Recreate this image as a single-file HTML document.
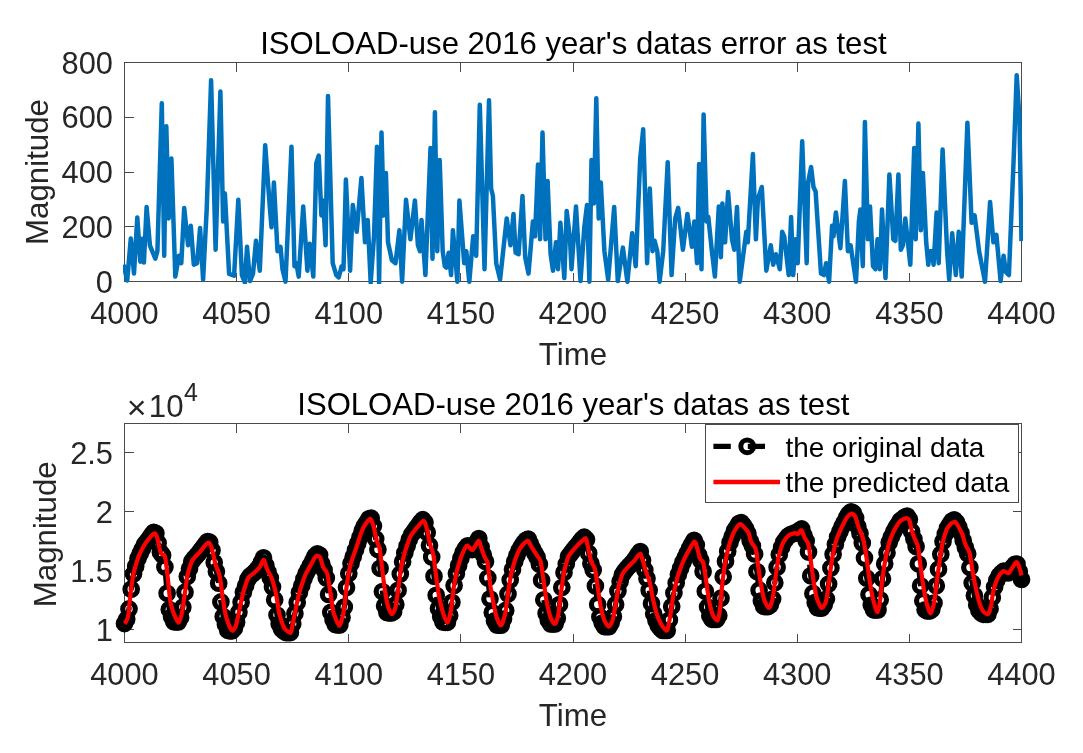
<!DOCTYPE html>
<html><head><meta charset="utf-8"><title>ISOLOAD plot</title>
<style>html,body{margin:0;padding:0;background:#fff}svg{display:block}text{font-family:"Liberation Sans",Arial,Helvetica,sans-serif}</style></head>
<body>
<svg width="1083" height="753" viewBox="0 0 1083 753">
<rect width="1083" height="753" fill="#fff"/>
<clipPath id="c1"><rect x="123" y="61" width="900" height="223"/></clipPath>
<g stroke="#4a4a4a" stroke-width="1" fill="none" shape-rendering="crispEdges">
<rect x="124.5" y="62.5" width="897.0" height="219.0"/>
<path d="M124.50 281.5v-9M124.50 62.5v9"/>
<path d="M236.62 281.5v-9M236.62 62.5v9"/>
<path d="M348.75 281.5v-9M348.75 62.5v9"/>
<path d="M460.88 281.5v-9M460.88 62.5v9"/>
<path d="M573.00 281.5v-9M573.00 62.5v9"/>
<path d="M685.12 281.5v-9M685.12 62.5v9"/>
<path d="M797.25 281.5v-9M797.25 62.5v9"/>
<path d="M909.38 281.5v-9M909.38 62.5v9"/>
<path d="M1021.50 281.5v-9M1021.50 62.5v9"/>
<path d="M124.5 281.50h9M1021.5 281.50h-9"/>
<path d="M124.5 226.75h9M1021.5 226.75h-9"/>
<path d="M124.5 172.00h9M1021.5 172.00h-9"/>
<path d="M124.5 117.25h9M1021.5 117.25h-9"/>
<path d="M124.5 62.50h9M1021.5 62.50h-9"/>
</g>
<polyline clip-path="url(#c1)" points="123.6,264.7 127.2,280.5 130.8,238.4 134.0,273.6 137.3,217.5 140.3,261.7 142.1,238.7 143.9,262.6 146.6,207.0 149.9,245.3 155.3,258.7 157.4,251.2 161.8,103.3 164.2,255.7 166.3,126.3 168.7,218.4 171.4,158.6 175.3,276.6 178.9,255.7 181.3,263.2 184.2,207.9 188.1,245.3 190.8,225.8 193.8,264.7 197.1,263.2 200.1,227.9 203.1,279.6 206.7,209.4 211.1,80.3 215.6,249.7 220.4,91.4 223.1,221.4 224.9,193.6 229.1,273.9 234.1,275.7 238.3,199.8 241.9,275.1 244.9,282.6 247.0,246.8 250.0,281.1 253.0,273.6 256.0,240.8 259.8,270.7 265.2,145.2 270.0,209.4 271.5,227.3 273.9,182.5 277.5,251.2 280.5,246.8 282.5,269.2 285.5,281.7 291.5,146.7 294.5,266.2 296.3,263.2 298.7,276.6 303.2,206.4 307.4,270.7 309.7,243.8 313.3,276.6 316.3,163.1 318.7,155.6 321.4,215.4 323.2,200.4 325.6,245.3 328.0,95.9 332.7,263.2 336.3,275.1 338.7,277.5 341.7,266.2 343.5,269.2 345.9,179.5 350.1,270.7 352.8,204.9 356.7,231.8 361.4,178.0 365.0,242.3 367.7,219.9 370.7,282.6 374.0,236.3 377.0,146.7 379.1,282.6 381.5,132.6 383.8,215.4 385.9,172.9 388.0,242.3 391.9,260.2 395.5,263.2 399.4,230.3 402.1,281.7 406.0,199.8 410.4,239.3 414.9,200.4 417.9,245.3 420.0,251.2 421.5,219.9 425.4,275.1 430.5,148.1 432.5,258.7 434.9,112.3 437.3,251.2 439.7,160.1 442.7,251.2 444.8,266.2 446.3,267.7 448.7,252.7 451.1,275.1 452.9,230.3 457.4,281.7 459.4,200.4 464.2,263.2 466.3,251.2 469.3,281.7 473.2,236.3 476.2,255.7 479.8,104.8 484.5,269.2 489.0,100.3 491.1,188.5 492.9,196.0 496.2,263.2 500.1,279.6 506.7,218.4 510.5,245.3 513.5,213.9 515.6,252.7 518.6,254.2 522.5,196.0 525.2,257.2 528.5,273.6 532.9,221.4 535.0,236.3 538.0,164.6 540.1,239.3 542.5,132.6 545.5,239.3 547.6,181.0 550.6,254.2 553.0,270.7 556.0,242.3 558.0,269.2 560.4,222.8 564.3,278.1 566.7,210.9 570.0,239.3 571.5,269.2 576.0,206.4 580.5,281.1 584.3,227.3 587.0,204.9 589.4,281.7 591.5,160.1 593.9,203.4 596.3,98.2 598.7,218.4 600.8,182.5 604.4,251.2 608.2,279.6 614.2,207.0 617.8,281.1 622.9,247.6 627.4,281.7 632.2,233.3 635.7,266.2 640.2,158.6 643.2,129.3 647.1,263.2 649.8,188.5 652.5,251.2 654.6,240.8 657.3,251.2 659.6,281.7 663.2,251.2 667.7,162.2 671.6,275.1 675.2,218.4 678.2,207.9 682.9,249.7 687.4,213.9 691.9,246.8 694.3,221.4 697.0,263.2 699.1,164.0 701.5,269.2 703.6,114.4 706.6,221.4 708.3,216.9 711.9,251.2 714.9,276.6 718.8,206.4 720.0,218.4 720.9,257.2 722.4,203.4 725.1,242.3 728.1,192.1 732.0,239.3 734.3,249.7 737.0,207.0 739.7,281.7 746.3,231.8 747.8,242.3 752.9,154.1 755.9,239.3 757.9,198.9 761.8,187.0 766.3,270.7 770.8,245.3 773.2,264.7 775.9,254.2 779.8,269.2 782.2,231.8 784.2,236.3 788.7,275.1 791.1,216.9 793.2,275.1 795.6,239.3 797.7,263.2 802.2,141.3 806.7,263.2 808.1,182.5 811.1,167.0 813.5,187.0 815.6,191.5 821.0,273.6 824.0,275.1 826.1,263.2 829.1,281.7 832.1,225.8 833.5,236.3 835.9,212.4 840.4,248.2 844.9,181.0 847.9,251.2 850.6,245.3 856.0,281.7 858.9,221.4 860.4,209.4 862.8,266.2 864.9,121.9 867.9,239.3 870.0,206.4 873.0,266.2 875.4,269.2 877.5,239.3 879.9,269.2 882.0,209.4 885.5,278.1 889.4,174.4 893.3,239.3 895.4,240.8 898.4,174.4 900.8,249.7 902.9,245.3 905.3,218.4 910.3,264.7 914.2,148.1 915.7,239.3 918.4,123.6 920.8,230.3 922.9,172.9 926.2,242.3 928.3,264.7 929.8,251.2 931.9,251.2 933.6,264.7 936.6,212.4 938.7,263.2 942.6,149.6 947.1,251.2 949.2,279.6 952.2,233.3 955.8,275.1 958.7,231.8 961.7,276.6 967.4,122.7 971.6,222.8 974.6,215.4 979.1,251.2 985.0,281.7 990.1,201.9 993.4,242.3 996.4,234.8 1000.6,281.1 1003.6,255.7 1006.0,272.2 1008.9,275.1 1013.7,158.0 1016.7,75.2 1019.4,117.4 1021.5,241.1" fill="none" stroke="#0072BD" stroke-width="4.5" stroke-linejoin="round" stroke-linecap="butt"/>
<g font-size="30.8" fill="#262626">
<text x="124.5" y="324" text-anchor="middle">4000</text>
<text x="124.5" y="685" text-anchor="middle">4000</text>
<text x="236.6" y="324" text-anchor="middle">4050</text>
<text x="236.6" y="685" text-anchor="middle">4050</text>
<text x="348.8" y="324" text-anchor="middle">4100</text>
<text x="348.8" y="685" text-anchor="middle">4100</text>
<text x="460.9" y="324" text-anchor="middle">4150</text>
<text x="460.9" y="685" text-anchor="middle">4150</text>
<text x="573.0" y="324" text-anchor="middle">4200</text>
<text x="573.0" y="685" text-anchor="middle">4200</text>
<text x="685.1" y="324" text-anchor="middle">4250</text>
<text x="685.1" y="685" text-anchor="middle">4250</text>
<text x="797.2" y="324" text-anchor="middle">4300</text>
<text x="797.2" y="685" text-anchor="middle">4300</text>
<text x="909.4" y="324" text-anchor="middle">4350</text>
<text x="909.4" y="685" text-anchor="middle">4350</text>
<text x="1021.5" y="324" text-anchor="middle">4400</text>
<text x="1021.5" y="685" text-anchor="middle">4400</text>
<text x="113" y="292.5" text-anchor="end">0</text>
<text x="113" y="237.8" text-anchor="end">200</text>
<text x="113" y="183.0" text-anchor="end">400</text>
<text x="113" y="128.2" text-anchor="end">600</text>
<text x="113" y="73.5" text-anchor="end">800</text>
<text x="113" y="640.5" text-anchor="end">1</text>
<text x="113" y="581.5" text-anchor="end">1.5</text>
<text x="113" y="522.5" text-anchor="end">2</text>
<text x="113" y="463.5" text-anchor="end">2.5</text>
<text x="573" y="365" text-anchor="middle" font-size="31.25">Time</text>
<text x="573" y="726" text-anchor="middle" font-size="31.25">Time</text>
<text transform="translate(48 172) rotate(-90)" text-anchor="middle" font-size="31.25">Magnitude</text>
<text transform="translate(55.5 534.3) rotate(-90)" text-anchor="middle" font-size="31.25">Magnitude</text>
<text x="126.7" y="419.4" font-size="33.9">×</text><text x="148.8" y="416.5" font-size="31.25">10<tspan dx="0.4" dy="-15.8" font-size="25">4</tspan></text>
</g>
<g font-size="31.1" fill="#000">
<text x="573.4" y="54.3" text-anchor="middle">ISOLOAD-use 2016 year's datas error as test</text>
<text x="573.3" y="415.4" text-anchor="middle">ISOLOAD-use 2016 year's datas as test</text>
</g>
<g stroke="#4a4a4a" stroke-width="1" fill="none" shape-rendering="crispEdges">
<rect x="124.5" y="423.5" width="897.0" height="219.0"/>
<path d="M124.50 642.5v-9M124.50 423.5v9"/>
<path d="M236.62 642.5v-9M236.62 423.5v9"/>
<path d="M348.75 642.5v-9M348.75 423.5v9"/>
<path d="M460.88 642.5v-9M460.88 423.5v9"/>
<path d="M573.00 642.5v-9M573.00 423.5v9"/>
<path d="M685.12 642.5v-9M685.12 423.5v9"/>
<path d="M797.25 642.5v-9M797.25 423.5v9"/>
<path d="M909.38 642.5v-9M909.38 423.5v9"/>
<path d="M1021.50 642.5v-9M1021.50 423.5v9"/>
<path d="M124.5 629.50h9M1021.5 629.50h-9"/>
<path d="M124.5 570.50h9M1021.5 570.50h-9"/>
<path d="M124.5 511.50h9M1021.5 511.50h-9"/>
<path d="M124.5 452.50h9M1021.5 452.50h-9"/>
</g>
<polyline points="124.5,623.6 126.7,619.3 129.0,608.9 131.2,589.2 133.5,573.9 135.7,566.3 138.0,558.6 140.2,553.4 142.4,548.9 144.7,544.3 146.9,541.6 149.2,538.5 151.4,535.2 153.7,532.3 155.9,533.3 158.1,543.1 160.4,552.3 162.6,555.2 164.9,567.1 167.1,593.3 169.3,609.5 171.6,617.0 173.8,621.7 176.1,622.0 178.3,622.0 180.6,617.5 182.8,607.2 185.0,592.2 187.3,576.6 189.5,568.7 191.8,561.6 194.0,558.6 196.3,556.0 198.5,553.4 200.7,550.6 203.0,547.6 205.2,544.4 207.5,541.6 209.7,542.2 212.0,550.3 214.2,562.6 216.4,571.5 218.7,583.2 220.9,601.9 223.2,616.6 225.4,624.3 227.7,630.3 229.9,630.8 232.1,630.8 234.4,628.2 236.6,622.3 238.9,612.3 241.1,602.3 243.4,592.2 245.6,585.7 247.8,579.4 250.1,576.1 252.3,574.3 254.6,572.3 256.8,569.8 259.1,566.9 261.3,562.6 263.5,557.8 265.8,565.2 268.0,572.0 270.3,578.0 272.5,587.1 274.7,599.7 277.0,615.0 279.2,623.9 281.5,629.0 283.7,631.1 286.0,632.6 288.2,632.6 290.4,632.6 292.7,624.0 294.9,613.4 297.2,602.6 299.4,592.6 301.7,585.8 303.9,579.1 306.1,573.5 308.4,569.3 310.6,564.9 312.9,560.5 315.1,556.1 317.4,553.8 319.6,555.1 321.8,563.8 324.1,570.0 326.3,578.0 328.6,594.4 330.8,612.3 333.1,620.0 335.3,624.5 337.5,624.9 339.8,624.9 342.0,617.6 344.3,607.1 346.5,587.6 348.8,573.5 351.0,563.5 353.2,556.8 355.5,550.1 357.7,543.6 360.0,537.2 362.2,530.7 364.4,526.0 366.7,522.5 368.9,518.8 371.2,518.2 373.4,526.1 375.7,538.9 377.9,549.4 380.1,568.3 382.4,591.6 384.6,605.7 386.9,612.4 389.1,613.0 391.4,613.0 393.6,611.7 395.8,604.5 398.1,590.3 400.3,574.0 402.6,561.8 404.8,552.9 407.1,545.9 409.3,539.6 411.5,534.8 413.8,531.7 416.0,528.5 418.3,525.4 420.5,522.3 422.8,519.7 425.0,522.4 427.2,532.4 429.5,545.5 431.7,557.0 434.0,576.3 436.2,595.3 438.5,608.4 440.7,616.5 442.9,622.0 445.2,622.3 447.4,622.3 449.7,615.6 451.9,602.3 454.1,585.4 456.4,573.5 458.6,565.4 460.9,558.2 463.1,552.6 465.4,548.6 467.6,545.8 469.8,547.8 472.1,549.6 474.3,546.2 476.6,542.2 478.8,538.5 481.1,547.0 483.3,554.7 485.5,561.4 487.8,578.0 490.0,598.8 492.3,612.6 494.5,620.9 496.8,625.0 499.0,625.2 501.2,625.2 503.5,619.0 505.7,610.4 508.0,593.9 510.2,580.1 512.5,569.4 514.7,561.5 516.9,555.4 519.2,550.3 521.4,546.4 523.7,543.0 525.9,540.3 528.2,539.0 530.4,543.8 532.6,548.7 534.9,553.3 537.1,557.3 539.4,564.3 541.6,580.3 543.8,599.8 546.1,613.2 548.3,620.3 550.6,623.9 552.8,624.0 555.1,624.0 557.3,618.3 559.5,604.6 561.8,587.5 564.0,572.5 566.3,564.0 568.5,556.5 570.8,553.5 573.0,550.5 575.2,547.7 577.5,545.2 579.7,542.3 582.0,539.3 584.2,537.2 586.5,539.5 588.7,553.3 590.9,563.4 593.2,570.0 595.4,585.9 597.7,604.4 599.9,617.1 602.2,623.0 604.4,626.6 606.6,626.7 608.9,626.7 611.1,623.0 613.4,616.4 615.6,604.4 617.9,591.0 620.1,581.6 622.3,574.8 624.6,571.2 626.8,568.5 629.1,566.0 631.3,563.7 633.5,561.2 635.8,558.0 638.0,554.6 640.3,551.6 642.5,560.3 644.8,570.0 647.0,578.5 649.2,590.2 651.5,603.6 653.7,613.8 656.0,620.6 658.2,625.6 660.5,628.4 662.7,630.5 664.9,630.5 667.2,630.5 669.4,620.0 671.7,606.6 673.9,593.0 676.2,582.9 678.4,574.5 680.6,568.3 682.9,562.2 685.1,557.7 687.4,552.9 689.6,548.3 691.9,544.1 694.1,540.3 696.3,544.9 698.6,555.0 700.8,560.6 703.1,571.4 705.3,591.3 707.6,607.1 709.8,615.8 712.0,619.3 714.3,619.5 716.5,619.5 718.8,615.4 721.0,598.2 723.2,576.8 725.5,561.3 727.7,551.3 730.0,542.5 732.2,536.6 734.5,530.6 736.7,527.2 738.9,523.5 741.2,522.5 743.4,525.2 745.7,528.8 747.9,533.6 750.2,541.0 752.4,546.1 754.6,553.9 756.9,571.6 759.1,590.2 761.4,600.9 763.6,606.3 765.9,606.6 768.1,606.6 770.3,604.9 772.6,599.1 774.8,582.7 777.1,567.2 779.3,554.6 781.6,547.3 783.8,542.0 786.0,539.0 788.3,536.0 790.5,534.6 792.8,533.8 795.0,532.8 797.2,532.9 799.5,530.3 801.7,528.9 804.0,535.5 806.2,541.0 808.5,552.1 810.7,575.8 812.9,593.4 815.2,602.4 817.4,607.7 819.7,608.1 821.9,608.1 824.2,604.7 826.4,599.1 828.6,584.1 830.9,568.0 833.1,554.3 835.4,544.2 837.6,537.0 839.9,531.6 842.1,526.6 844.3,522.2 846.6,517.5 848.8,513.9 851.1,511.8 853.3,512.9 855.6,518.1 857.8,526.5 860.0,533.6 862.3,542.9 864.5,558.0 866.8,578.2 869.0,594.6 871.3,605.1 873.5,609.8 875.7,610.0 878.0,610.0 880.2,599.8 882.5,578.7 884.7,563.8 887.0,552.7 889.2,542.6 891.4,537.1 893.7,531.7 895.9,527.7 898.2,524.3 900.4,520.6 902.6,518.9 904.9,517.1 907.1,516.1 909.4,519.5 911.6,531.4 913.9,539.1 916.1,546.6 918.3,563.8 920.6,585.8 922.8,600.8 925.1,609.8 927.3,611.0 929.6,611.0 931.8,609.6 934.0,603.0 936.3,585.8 938.5,569.2 940.8,554.2 943.0,541.5 945.3,534.1 947.5,527.9 949.7,524.5 952.0,521.0 954.2,519.8 956.5,522.3 958.7,527.1 961.0,533.0 963.2,540.6 965.4,547.5 967.7,553.8 969.9,567.6 972.2,583.1 974.4,595.6 976.7,604.7 978.9,610.5 981.1,613.1 983.4,614.3 985.6,614.3 987.9,614.3 990.1,608.8 992.3,597.5 994.6,587.0 996.8,580.3 999.1,575.8 1001.3,573.3 1003.6,571.2 1005.8,572.1 1008.0,573.0 1010.3,570.7 1012.5,567.3 1014.8,564.4 1017.0,564.0 1019.3,571.5 1021.5,579.4" fill="none" stroke="#000" stroke-width="5.2" stroke-dasharray="17.4 17" stroke-linejoin="round"/>
<g fill="none" stroke="#000" stroke-width="5.2">
<circle cx="124.5" cy="623.6" r="6.25"/><circle cx="126.7" cy="619.3" r="6.25"/><circle cx="129.0" cy="608.9" r="6.25"/><circle cx="131.2" cy="589.2" r="6.25"/><circle cx="133.5" cy="573.9" r="6.25"/><circle cx="135.7" cy="566.3" r="6.25"/><circle cx="138.0" cy="558.6" r="6.25"/><circle cx="140.2" cy="553.4" r="6.25"/><circle cx="142.4" cy="548.9" r="6.25"/><circle cx="144.7" cy="544.3" r="6.25"/><circle cx="146.9" cy="541.6" r="6.25"/><circle cx="149.2" cy="538.5" r="6.25"/><circle cx="151.4" cy="535.2" r="6.25"/><circle cx="153.7" cy="532.3" r="6.25"/><circle cx="155.9" cy="533.3" r="6.25"/><circle cx="158.1" cy="543.1" r="6.25"/><circle cx="160.4" cy="552.3" r="6.25"/><circle cx="162.6" cy="555.2" r="6.25"/><circle cx="164.9" cy="567.1" r="6.25"/><circle cx="167.1" cy="593.3" r="6.25"/><circle cx="169.3" cy="609.5" r="6.25"/><circle cx="171.6" cy="617.0" r="6.25"/><circle cx="173.8" cy="621.7" r="6.25"/><circle cx="176.1" cy="622.0" r="6.25"/><circle cx="178.3" cy="622.0" r="6.25"/><circle cx="180.6" cy="617.5" r="6.25"/><circle cx="182.8" cy="607.2" r="6.25"/><circle cx="185.0" cy="592.2" r="6.25"/><circle cx="187.3" cy="576.6" r="6.25"/><circle cx="189.5" cy="568.7" r="6.25"/><circle cx="191.8" cy="561.6" r="6.25"/><circle cx="194.0" cy="558.6" r="6.25"/><circle cx="196.3" cy="556.0" r="6.25"/><circle cx="198.5" cy="553.4" r="6.25"/><circle cx="200.7" cy="550.6" r="6.25"/><circle cx="203.0" cy="547.6" r="6.25"/><circle cx="205.2" cy="544.4" r="6.25"/><circle cx="207.5" cy="541.6" r="6.25"/><circle cx="209.7" cy="542.2" r="6.25"/><circle cx="212.0" cy="550.3" r="6.25"/><circle cx="214.2" cy="562.6" r="6.25"/><circle cx="216.4" cy="571.5" r="6.25"/><circle cx="218.7" cy="583.2" r="6.25"/><circle cx="220.9" cy="601.9" r="6.25"/><circle cx="223.2" cy="616.6" r="6.25"/><circle cx="225.4" cy="624.3" r="6.25"/><circle cx="227.7" cy="630.3" r="6.25"/><circle cx="229.9" cy="630.8" r="6.25"/><circle cx="232.1" cy="630.8" r="6.25"/><circle cx="234.4" cy="628.2" r="6.25"/><circle cx="236.6" cy="622.3" r="6.25"/><circle cx="238.9" cy="612.3" r="6.25"/><circle cx="241.1" cy="602.3" r="6.25"/><circle cx="243.4" cy="592.2" r="6.25"/><circle cx="245.6" cy="585.7" r="6.25"/><circle cx="247.8" cy="579.4" r="6.25"/><circle cx="250.1" cy="576.1" r="6.25"/><circle cx="252.3" cy="574.3" r="6.25"/><circle cx="254.6" cy="572.3" r="6.25"/><circle cx="256.8" cy="569.8" r="6.25"/><circle cx="259.1" cy="566.9" r="6.25"/><circle cx="261.3" cy="562.6" r="6.25"/><circle cx="263.5" cy="557.8" r="6.25"/><circle cx="265.8" cy="565.2" r="6.25"/><circle cx="268.0" cy="572.0" r="6.25"/><circle cx="270.3" cy="578.0" r="6.25"/><circle cx="272.5" cy="587.1" r="6.25"/><circle cx="274.7" cy="599.7" r="6.25"/><circle cx="277.0" cy="615.0" r="6.25"/><circle cx="279.2" cy="623.9" r="6.25"/><circle cx="281.5" cy="629.0" r="6.25"/><circle cx="283.7" cy="631.1" r="6.25"/><circle cx="286.0" cy="632.6" r="6.25"/><circle cx="288.2" cy="632.6" r="6.25"/><circle cx="290.4" cy="632.6" r="6.25"/><circle cx="292.7" cy="624.0" r="6.25"/><circle cx="294.9" cy="613.4" r="6.25"/><circle cx="297.2" cy="602.6" r="6.25"/><circle cx="299.4" cy="592.6" r="6.25"/><circle cx="301.7" cy="585.8" r="6.25"/><circle cx="303.9" cy="579.1" r="6.25"/><circle cx="306.1" cy="573.5" r="6.25"/><circle cx="308.4" cy="569.3" r="6.25"/><circle cx="310.6" cy="564.9" r="6.25"/><circle cx="312.9" cy="560.5" r="6.25"/><circle cx="315.1" cy="556.1" r="6.25"/><circle cx="317.4" cy="553.8" r="6.25"/><circle cx="319.6" cy="555.1" r="6.25"/><circle cx="321.8" cy="563.8" r="6.25"/><circle cx="324.1" cy="570.0" r="6.25"/><circle cx="326.3" cy="578.0" r="6.25"/><circle cx="328.6" cy="594.4" r="6.25"/><circle cx="330.8" cy="612.3" r="6.25"/><circle cx="333.1" cy="620.0" r="6.25"/><circle cx="335.3" cy="624.5" r="6.25"/><circle cx="337.5" cy="624.9" r="6.25"/><circle cx="339.8" cy="624.9" r="6.25"/><circle cx="342.0" cy="617.6" r="6.25"/><circle cx="344.3" cy="607.1" r="6.25"/><circle cx="346.5" cy="587.6" r="6.25"/><circle cx="348.8" cy="573.5" r="6.25"/><circle cx="351.0" cy="563.5" r="6.25"/><circle cx="353.2" cy="556.8" r="6.25"/><circle cx="355.5" cy="550.1" r="6.25"/><circle cx="357.7" cy="543.6" r="6.25"/><circle cx="360.0" cy="537.2" r="6.25"/><circle cx="362.2" cy="530.7" r="6.25"/><circle cx="364.4" cy="526.0" r="6.25"/><circle cx="366.7" cy="522.5" r="6.25"/><circle cx="368.9" cy="518.8" r="6.25"/><circle cx="371.2" cy="518.2" r="6.25"/><circle cx="373.4" cy="526.1" r="6.25"/><circle cx="375.7" cy="538.9" r="6.25"/><circle cx="377.9" cy="549.4" r="6.25"/><circle cx="380.1" cy="568.3" r="6.25"/><circle cx="382.4" cy="591.6" r="6.25"/><circle cx="384.6" cy="605.7" r="6.25"/><circle cx="386.9" cy="612.4" r="6.25"/><circle cx="389.1" cy="613.0" r="6.25"/><circle cx="391.4" cy="613.0" r="6.25"/><circle cx="393.6" cy="611.7" r="6.25"/><circle cx="395.8" cy="604.5" r="6.25"/><circle cx="398.1" cy="590.3" r="6.25"/><circle cx="400.3" cy="574.0" r="6.25"/><circle cx="402.6" cy="561.8" r="6.25"/><circle cx="404.8" cy="552.9" r="6.25"/><circle cx="407.1" cy="545.9" r="6.25"/><circle cx="409.3" cy="539.6" r="6.25"/><circle cx="411.5" cy="534.8" r="6.25"/><circle cx="413.8" cy="531.7" r="6.25"/><circle cx="416.0" cy="528.5" r="6.25"/><circle cx="418.3" cy="525.4" r="6.25"/><circle cx="420.5" cy="522.3" r="6.25"/><circle cx="422.8" cy="519.7" r="6.25"/><circle cx="425.0" cy="522.4" r="6.25"/><circle cx="427.2" cy="532.4" r="6.25"/><circle cx="429.5" cy="545.5" r="6.25"/><circle cx="431.7" cy="557.0" r="6.25"/><circle cx="434.0" cy="576.3" r="6.25"/><circle cx="436.2" cy="595.3" r="6.25"/><circle cx="438.5" cy="608.4" r="6.25"/><circle cx="440.7" cy="616.5" r="6.25"/><circle cx="442.9" cy="622.0" r="6.25"/><circle cx="445.2" cy="622.3" r="6.25"/><circle cx="447.4" cy="622.3" r="6.25"/><circle cx="449.7" cy="615.6" r="6.25"/><circle cx="451.9" cy="602.3" r="6.25"/><circle cx="454.1" cy="585.4" r="6.25"/><circle cx="456.4" cy="573.5" r="6.25"/><circle cx="458.6" cy="565.4" r="6.25"/><circle cx="460.9" cy="558.2" r="6.25"/><circle cx="463.1" cy="552.6" r="6.25"/><circle cx="465.4" cy="548.6" r="6.25"/><circle cx="467.6" cy="545.8" r="6.25"/><circle cx="469.8" cy="547.8" r="6.25"/><circle cx="472.1" cy="549.6" r="6.25"/><circle cx="474.3" cy="546.2" r="6.25"/><circle cx="476.6" cy="542.2" r="6.25"/><circle cx="478.8" cy="538.5" r="6.25"/><circle cx="481.1" cy="547.0" r="6.25"/><circle cx="483.3" cy="554.7" r="6.25"/><circle cx="485.5" cy="561.4" r="6.25"/><circle cx="487.8" cy="578.0" r="6.25"/><circle cx="490.0" cy="598.8" r="6.25"/><circle cx="492.3" cy="612.6" r="6.25"/><circle cx="494.5" cy="620.9" r="6.25"/><circle cx="496.8" cy="625.0" r="6.25"/><circle cx="499.0" cy="625.2" r="6.25"/><circle cx="501.2" cy="625.2" r="6.25"/><circle cx="503.5" cy="619.0" r="6.25"/><circle cx="505.7" cy="610.4" r="6.25"/><circle cx="508.0" cy="593.9" r="6.25"/><circle cx="510.2" cy="580.1" r="6.25"/><circle cx="512.5" cy="569.4" r="6.25"/><circle cx="514.7" cy="561.5" r="6.25"/><circle cx="516.9" cy="555.4" r="6.25"/><circle cx="519.2" cy="550.3" r="6.25"/><circle cx="521.4" cy="546.4" r="6.25"/><circle cx="523.7" cy="543.0" r="6.25"/><circle cx="525.9" cy="540.3" r="6.25"/><circle cx="528.2" cy="539.0" r="6.25"/><circle cx="530.4" cy="543.8" r="6.25"/><circle cx="532.6" cy="548.7" r="6.25"/><circle cx="534.9" cy="553.3" r="6.25"/><circle cx="537.1" cy="557.3" r="6.25"/><circle cx="539.4" cy="564.3" r="6.25"/><circle cx="541.6" cy="580.3" r="6.25"/><circle cx="543.8" cy="599.8" r="6.25"/><circle cx="546.1" cy="613.2" r="6.25"/><circle cx="548.3" cy="620.3" r="6.25"/><circle cx="550.6" cy="623.9" r="6.25"/><circle cx="552.8" cy="624.0" r="6.25"/><circle cx="555.1" cy="624.0" r="6.25"/><circle cx="557.3" cy="618.3" r="6.25"/><circle cx="559.5" cy="604.6" r="6.25"/><circle cx="561.8" cy="587.5" r="6.25"/><circle cx="564.0" cy="572.5" r="6.25"/><circle cx="566.3" cy="564.0" r="6.25"/><circle cx="568.5" cy="556.5" r="6.25"/><circle cx="570.8" cy="553.5" r="6.25"/><circle cx="573.0" cy="550.5" r="6.25"/><circle cx="575.2" cy="547.7" r="6.25"/><circle cx="577.5" cy="545.2" r="6.25"/><circle cx="579.7" cy="542.3" r="6.25"/><circle cx="582.0" cy="539.3" r="6.25"/><circle cx="584.2" cy="537.2" r="6.25"/><circle cx="586.5" cy="539.5" r="6.25"/><circle cx="588.7" cy="553.3" r="6.25"/><circle cx="590.9" cy="563.4" r="6.25"/><circle cx="593.2" cy="570.0" r="6.25"/><circle cx="595.4" cy="585.9" r="6.25"/><circle cx="597.7" cy="604.4" r="6.25"/><circle cx="599.9" cy="617.1" r="6.25"/><circle cx="602.2" cy="623.0" r="6.25"/><circle cx="604.4" cy="626.6" r="6.25"/><circle cx="606.6" cy="626.7" r="6.25"/><circle cx="608.9" cy="626.7" r="6.25"/><circle cx="611.1" cy="623.0" r="6.25"/><circle cx="613.4" cy="616.4" r="6.25"/><circle cx="615.6" cy="604.4" r="6.25"/><circle cx="617.9" cy="591.0" r="6.25"/><circle cx="620.1" cy="581.6" r="6.25"/><circle cx="622.3" cy="574.8" r="6.25"/><circle cx="624.6" cy="571.2" r="6.25"/><circle cx="626.8" cy="568.5" r="6.25"/><circle cx="629.1" cy="566.0" r="6.25"/><circle cx="631.3" cy="563.7" r="6.25"/><circle cx="633.5" cy="561.2" r="6.25"/><circle cx="635.8" cy="558.0" r="6.25"/><circle cx="638.0" cy="554.6" r="6.25"/><circle cx="640.3" cy="551.6" r="6.25"/><circle cx="642.5" cy="560.3" r="6.25"/><circle cx="644.8" cy="570.0" r="6.25"/><circle cx="647.0" cy="578.5" r="6.25"/><circle cx="649.2" cy="590.2" r="6.25"/><circle cx="651.5" cy="603.6" r="6.25"/><circle cx="653.7" cy="613.8" r="6.25"/><circle cx="656.0" cy="620.6" r="6.25"/><circle cx="658.2" cy="625.6" r="6.25"/><circle cx="660.5" cy="628.4" r="6.25"/><circle cx="662.7" cy="630.5" r="6.25"/><circle cx="664.9" cy="630.5" r="6.25"/><circle cx="667.2" cy="630.5" r="6.25"/><circle cx="669.4" cy="620.0" r="6.25"/><circle cx="671.7" cy="606.6" r="6.25"/><circle cx="673.9" cy="593.0" r="6.25"/><circle cx="676.2" cy="582.9" r="6.25"/><circle cx="678.4" cy="574.5" r="6.25"/><circle cx="680.6" cy="568.3" r="6.25"/><circle cx="682.9" cy="562.2" r="6.25"/><circle cx="685.1" cy="557.7" r="6.25"/><circle cx="687.4" cy="552.9" r="6.25"/><circle cx="689.6" cy="548.3" r="6.25"/><circle cx="691.9" cy="544.1" r="6.25"/><circle cx="694.1" cy="540.3" r="6.25"/><circle cx="696.3" cy="544.9" r="6.25"/><circle cx="698.6" cy="555.0" r="6.25"/><circle cx="700.8" cy="560.6" r="6.25"/><circle cx="703.1" cy="571.4" r="6.25"/><circle cx="705.3" cy="591.3" r="6.25"/><circle cx="707.6" cy="607.1" r="6.25"/><circle cx="709.8" cy="615.8" r="6.25"/><circle cx="712.0" cy="619.3" r="6.25"/><circle cx="714.3" cy="619.5" r="6.25"/><circle cx="716.5" cy="619.5" r="6.25"/><circle cx="718.8" cy="615.4" r="6.25"/><circle cx="721.0" cy="598.2" r="6.25"/><circle cx="723.2" cy="576.8" r="6.25"/><circle cx="725.5" cy="561.3" r="6.25"/><circle cx="727.7" cy="551.3" r="6.25"/><circle cx="730.0" cy="542.5" r="6.25"/><circle cx="732.2" cy="536.6" r="6.25"/><circle cx="734.5" cy="530.6" r="6.25"/><circle cx="736.7" cy="527.2" r="6.25"/><circle cx="738.9" cy="523.5" r="6.25"/><circle cx="741.2" cy="522.5" r="6.25"/><circle cx="743.4" cy="525.2" r="6.25"/><circle cx="745.7" cy="528.8" r="6.25"/><circle cx="747.9" cy="533.6" r="6.25"/><circle cx="750.2" cy="541.0" r="6.25"/><circle cx="752.4" cy="546.1" r="6.25"/><circle cx="754.6" cy="553.9" r="6.25"/><circle cx="756.9" cy="571.6" r="6.25"/><circle cx="759.1" cy="590.2" r="6.25"/><circle cx="761.4" cy="600.9" r="6.25"/><circle cx="763.6" cy="606.3" r="6.25"/><circle cx="765.9" cy="606.6" r="6.25"/><circle cx="768.1" cy="606.6" r="6.25"/><circle cx="770.3" cy="604.9" r="6.25"/><circle cx="772.6" cy="599.1" r="6.25"/><circle cx="774.8" cy="582.7" r="6.25"/><circle cx="777.1" cy="567.2" r="6.25"/><circle cx="779.3" cy="554.6" r="6.25"/><circle cx="781.6" cy="547.3" r="6.25"/><circle cx="783.8" cy="542.0" r="6.25"/><circle cx="786.0" cy="539.0" r="6.25"/><circle cx="788.3" cy="536.0" r="6.25"/><circle cx="790.5" cy="534.6" r="6.25"/><circle cx="792.8" cy="533.8" r="6.25"/><circle cx="795.0" cy="532.8" r="6.25"/><circle cx="797.2" cy="532.9" r="6.25"/><circle cx="799.5" cy="530.3" r="6.25"/><circle cx="801.7" cy="528.9" r="6.25"/><circle cx="804.0" cy="535.5" r="6.25"/><circle cx="806.2" cy="541.0" r="6.25"/><circle cx="808.5" cy="552.1" r="6.25"/><circle cx="810.7" cy="575.8" r="6.25"/><circle cx="812.9" cy="593.4" r="6.25"/><circle cx="815.2" cy="602.4" r="6.25"/><circle cx="817.4" cy="607.7" r="6.25"/><circle cx="819.7" cy="608.1" r="6.25"/><circle cx="821.9" cy="608.1" r="6.25"/><circle cx="824.2" cy="604.7" r="6.25"/><circle cx="826.4" cy="599.1" r="6.25"/><circle cx="828.6" cy="584.1" r="6.25"/><circle cx="830.9" cy="568.0" r="6.25"/><circle cx="833.1" cy="554.3" r="6.25"/><circle cx="835.4" cy="544.2" r="6.25"/><circle cx="837.6" cy="537.0" r="6.25"/><circle cx="839.9" cy="531.6" r="6.25"/><circle cx="842.1" cy="526.6" r="6.25"/><circle cx="844.3" cy="522.2" r="6.25"/><circle cx="846.6" cy="517.5" r="6.25"/><circle cx="848.8" cy="513.9" r="6.25"/><circle cx="851.1" cy="511.8" r="6.25"/><circle cx="853.3" cy="512.9" r="6.25"/><circle cx="855.6" cy="518.1" r="6.25"/><circle cx="857.8" cy="526.5" r="6.25"/><circle cx="860.0" cy="533.6" r="6.25"/><circle cx="862.3" cy="542.9" r="6.25"/><circle cx="864.5" cy="558.0" r="6.25"/><circle cx="866.8" cy="578.2" r="6.25"/><circle cx="869.0" cy="594.6" r="6.25"/><circle cx="871.3" cy="605.1" r="6.25"/><circle cx="873.5" cy="609.8" r="6.25"/><circle cx="875.7" cy="610.0" r="6.25"/><circle cx="878.0" cy="610.0" r="6.25"/><circle cx="880.2" cy="599.8" r="6.25"/><circle cx="882.5" cy="578.7" r="6.25"/><circle cx="884.7" cy="563.8" r="6.25"/><circle cx="887.0" cy="552.7" r="6.25"/><circle cx="889.2" cy="542.6" r="6.25"/><circle cx="891.4" cy="537.1" r="6.25"/><circle cx="893.7" cy="531.7" r="6.25"/><circle cx="895.9" cy="527.7" r="6.25"/><circle cx="898.2" cy="524.3" r="6.25"/><circle cx="900.4" cy="520.6" r="6.25"/><circle cx="902.6" cy="518.9" r="6.25"/><circle cx="904.9" cy="517.1" r="6.25"/><circle cx="907.1" cy="516.1" r="6.25"/><circle cx="909.4" cy="519.5" r="6.25"/><circle cx="911.6" cy="531.4" r="6.25"/><circle cx="913.9" cy="539.1" r="6.25"/><circle cx="916.1" cy="546.6" r="6.25"/><circle cx="918.3" cy="563.8" r="6.25"/><circle cx="920.6" cy="585.8" r="6.25"/><circle cx="922.8" cy="600.8" r="6.25"/><circle cx="925.1" cy="609.8" r="6.25"/><circle cx="927.3" cy="611.0" r="6.25"/><circle cx="929.6" cy="611.0" r="6.25"/><circle cx="931.8" cy="609.6" r="6.25"/><circle cx="934.0" cy="603.0" r="6.25"/><circle cx="936.3" cy="585.8" r="6.25"/><circle cx="938.5" cy="569.2" r="6.25"/><circle cx="940.8" cy="554.2" r="6.25"/><circle cx="943.0" cy="541.5" r="6.25"/><circle cx="945.3" cy="534.1" r="6.25"/><circle cx="947.5" cy="527.9" r="6.25"/><circle cx="949.7" cy="524.5" r="6.25"/><circle cx="952.0" cy="521.0" r="6.25"/><circle cx="954.2" cy="519.8" r="6.25"/><circle cx="956.5" cy="522.3" r="6.25"/><circle cx="958.7" cy="527.1" r="6.25"/><circle cx="961.0" cy="533.0" r="6.25"/><circle cx="963.2" cy="540.6" r="6.25"/><circle cx="965.4" cy="547.5" r="6.25"/><circle cx="967.7" cy="553.8" r="6.25"/><circle cx="969.9" cy="567.6" r="6.25"/><circle cx="972.2" cy="583.1" r="6.25"/><circle cx="974.4" cy="595.6" r="6.25"/><circle cx="976.7" cy="604.7" r="6.25"/><circle cx="978.9" cy="610.5" r="6.25"/><circle cx="981.1" cy="613.1" r="6.25"/><circle cx="983.4" cy="614.3" r="6.25"/><circle cx="985.6" cy="614.3" r="6.25"/><circle cx="987.9" cy="614.3" r="6.25"/><circle cx="990.1" cy="608.8" r="6.25"/><circle cx="992.3" cy="597.5" r="6.25"/><circle cx="994.6" cy="587.0" r="6.25"/><circle cx="996.8" cy="580.3" r="6.25"/><circle cx="999.1" cy="575.8" r="6.25"/><circle cx="1001.3" cy="573.3" r="6.25"/><circle cx="1003.6" cy="571.2" r="6.25"/><circle cx="1005.8" cy="572.1" r="6.25"/><circle cx="1008.0" cy="573.0" r="6.25"/><circle cx="1010.3" cy="570.7" r="6.25"/><circle cx="1012.5" cy="567.3" r="6.25"/><circle cx="1014.8" cy="564.4" r="6.25"/><circle cx="1017.0" cy="564.0" r="6.25"/><circle cx="1019.3" cy="571.5" r="6.25"/><circle cx="1021.5" cy="579.4" r="6.25"/>
</g>
<polyline points="1017.0,564.0 1019.3,571.5 1021.5,579.4" fill="none" stroke="#000" stroke-width="5.2" stroke-linejoin="round"/>
<circle cx="1021.5" cy="579.4" r="6" fill="#000"/>
<polyline points="124.5,623.6 125.5,622.5 126.5,620.7 127.5,618.3 128.5,614.2 129.5,603.8 130.5,594.0 131.5,586.4 132.5,579.4 133.5,573.6 134.5,569.7 135.5,566.1 136.5,562.7 137.5,559.6 138.5,556.7 139.5,554.4 140.5,552.3 141.5,550.2 142.5,548.3 143.5,546.4 144.5,544.7 145.5,543.3 146.5,541.9 147.5,540.6 148.5,539.3 149.5,538.0 150.5,536.8 151.5,535.7 152.5,534.7 153.5,533.9 154.5,533.3 155.5,533.8 156.5,535.9 157.5,538.9 158.5,543.2 159.5,547.9 160.5,551.9 161.5,553.9 162.5,554.4 163.5,554.9 164.5,555.4 165.5,559.2 166.5,566.9 167.5,575.6 168.5,584.8 169.5,594.7 170.5,602.5 171.5,606.4 172.5,609.7 173.5,612.6 174.5,615.4 175.5,617.5 176.5,619.6 177.5,621.3 178.5,622.5 179.5,621.1 180.5,618.3 181.5,615.0 182.5,609.8 183.5,602.9 184.5,595.7 185.5,588.7 186.5,581.4 187.5,575.1 188.5,571.3 189.5,567.8 190.5,564.7 191.5,562.0 192.5,560.1 193.5,558.8 194.5,557.6 195.5,556.5 196.5,555.4 197.5,554.4 198.5,553.4 199.5,552.3 200.5,551.1 201.5,549.9 202.5,548.6 203.5,547.3 204.5,546.1 205.5,545.0 206.5,544.0 207.5,543.1 208.5,542.5 209.5,543.1 210.5,545.0 211.5,547.4 212.5,551.1 213.5,555.5 214.5,560.2 215.5,564.4 216.5,567.4 217.5,569.9 218.5,572.4 219.5,575.4 220.5,581.0 221.5,588.7 222.5,596.2 223.5,602.6 224.5,608.8 225.5,614.3 226.5,618.1 227.5,621.0 228.5,623.8 229.5,626.4 230.5,628.5 231.5,630.1 232.5,630.6 233.5,629.7 234.5,628.4 235.5,626.9 236.5,623.5 237.5,619.0 238.5,614.1 239.5,609.4 240.5,604.8 241.5,600.1 242.5,595.6 243.5,591.5 244.5,588.3 245.5,585.1 246.5,582.2 247.5,579.6 248.5,577.4 249.5,576.4 250.5,575.6 251.5,574.9 252.5,574.1 253.5,573.4 254.5,572.5 255.5,571.5 256.5,570.6 257.5,569.6 258.5,568.6 259.5,567.5 260.5,565.9 261.5,563.6 262.5,561.4 263.5,559.9 264.5,561.5 265.5,564.3 266.5,567.5 267.5,569.9 268.5,571.9 269.5,573.8 270.5,575.6 271.5,577.7 272.5,580.2 273.5,583.8 274.5,587.8 275.5,592.0 276.5,596.6 277.5,602.7 278.5,609.1 279.5,614.6 280.5,617.9 281.5,621.1 282.5,624.0 283.5,626.5 284.5,628.6 285.5,629.6 286.5,630.4 287.5,631.2 288.5,631.9 289.5,632.4 290.5,632.8 291.5,630.6 292.5,625.7 293.5,620.2 294.5,615.3 295.5,610.3 296.5,605.3 297.5,600.4 298.5,595.8 299.5,592.0 300.5,588.7 301.5,585.6 302.5,582.6 303.5,579.7 304.5,577.0 305.5,574.5 306.5,572.6 307.5,570.7 308.5,568.9 309.5,567.1 310.5,565.4 311.5,563.6 312.5,561.8 313.5,559.9 314.5,558.1 315.5,556.6 316.5,555.7 317.5,555.9 318.5,556.2 319.5,556.5 320.5,557.9 321.5,561.4 322.5,565.3 323.5,567.8 324.5,569.2 325.5,570.5 326.5,571.9 327.5,574.6 328.5,580.2 329.5,586.8 330.5,593.3 331.5,600.4 332.5,607.5 333.5,612.7 334.5,615.6 335.5,618.3 336.5,620.7 337.5,622.8 338.5,624.5 339.5,625.6 340.5,623.8 341.5,620.7 342.5,617.0 343.5,612.9 344.5,605.7 345.5,596.4 346.5,587.3 347.5,580.4 348.5,574.2 349.5,568.6 350.5,564.6 351.5,561.3 352.5,558.3 353.5,555.5 354.5,552.7 355.5,549.9 356.5,547.0 357.5,544.0 358.5,540.9 359.5,537.8 360.5,534.9 361.5,532.1 362.5,529.5 363.5,527.4 364.5,525.8 365.5,524.2 366.5,522.7 367.5,521.4 368.5,520.2 369.5,519.2 370.5,518.8 371.5,520.5 372.5,523.1 373.5,526.0 374.5,530.4 375.5,535.5 376.5,540.0 377.5,542.8 378.5,545.2 379.5,548.0 380.5,554.7 381.5,563.3 382.5,571.5 383.5,579.8 384.5,587.6 385.5,593.9 386.5,599.6 387.5,604.5 388.5,607.7 389.5,610.2 390.5,612.3 391.5,613.8 392.5,613.9 393.5,612.4 394.5,610.5 395.5,607.2 396.5,601.2 397.5,594.2 398.5,587.2 399.5,579.6 400.5,572.0 401.5,565.8 402.5,561.4 403.5,557.4 404.5,553.7 405.5,550.1 406.5,547.0 407.5,544.0 408.5,541.2 409.5,538.5 410.5,536.2 411.5,534.6 412.5,533.2 413.5,531.8 414.5,530.6 415.5,529.4 416.5,528.1 417.5,527.0 418.5,525.8 419.5,524.6 420.5,523.5 421.5,522.4 422.5,521.5 423.5,520.9 424.5,521.7 425.5,524.3 426.5,527.4 427.5,531.3 428.5,536.5 429.5,541.8 430.5,545.8 431.5,548.6 432.5,551.4 433.5,555.8 434.5,563.3 435.5,571.6 436.5,579.2 437.5,586.2 438.5,592.9 439.5,598.7 440.5,603.2 441.5,607.4 442.5,611.2 443.5,614.5 444.5,617.0 445.5,619.3 446.5,621.3 447.5,622.5 448.5,620.5 449.5,617.0 450.5,612.8 451.5,606.1 452.5,597.5 453.5,589.2 454.5,583.0 455.5,577.6 456.5,572.6 457.5,568.6 458.5,565.1 459.5,561.8 460.5,558.7 461.5,555.9 462.5,553.5 463.5,551.3 464.5,549.2 465.5,547.4 466.5,546.0 467.5,545.6 468.5,546.5 469.5,547.6 470.5,548.8 471.5,549.7 472.5,550.0 473.5,548.9 474.5,547.3 475.5,545.5 476.5,543.6 477.5,542.0 478.5,540.9 479.5,542.0 480.5,545.2 481.5,548.5 482.5,551.3 483.5,554.0 484.5,556.5 485.5,558.5 486.5,560.2 487.5,562.4 488.5,569.6 489.5,579.5 490.5,586.5 491.5,592.5 492.5,598.2 493.5,603.3 494.5,608.3 495.5,612.9 496.5,617.0 497.5,619.7 498.5,621.9 499.5,623.8 500.5,625.2 501.5,625.0 502.5,622.9 503.5,620.0 504.5,616.7 505.5,612.3 506.5,605.2 507.5,597.2 508.5,590.1 509.5,583.7 510.5,577.7 511.5,572.5 512.5,568.6 513.5,565.1 514.5,561.8 515.5,558.6 516.5,556.1 517.5,553.7 518.5,551.5 519.5,549.4 520.5,547.7 521.5,546.4 522.5,545.1 523.5,544.0 524.5,543.0 525.5,542.1 526.5,541.3 527.5,540.8 528.5,541.4 529.5,543.1 530.5,545.0 531.5,546.8 532.5,548.4 533.5,550.0 534.5,551.6 535.5,553.2 536.5,554.8 537.5,556.2 538.5,557.5 539.5,558.9 540.5,560.7 541.5,566.0 542.5,573.2 543.5,580.5 544.5,587.3 545.5,594.3 546.5,600.7 547.5,605.6 548.5,610.0 549.5,614.0 550.5,617.5 551.5,619.6 552.5,621.4 553.5,622.8 554.5,623.9 555.5,623.5 556.5,621.2 557.5,618.2 558.5,613.5 559.5,605.6 560.5,596.8 561.5,589.1 562.5,582.0 563.5,575.3 564.5,569.9 565.5,565.9 566.5,562.3 567.5,559.1 568.5,556.4 569.5,554.8 570.5,553.4 571.5,552.1 572.5,550.9 573.5,549.7 574.5,548.5 575.5,547.4 576.5,546.4 577.5,545.3 578.5,544.3 579.5,543.4 580.5,542.4 581.5,541.5 582.5,540.6 583.5,539.7 584.5,538.9 585.5,538.3 586.5,540.2 587.5,544.8 588.5,549.4 589.5,554.4 590.5,559.0 591.5,562.1 592.5,564.0 593.5,565.7 594.5,567.6 595.5,571.4 596.5,578.3 597.5,585.8 598.5,592.6 599.5,599.3 600.5,605.4 601.5,610.0 602.5,614.2 603.5,617.9 604.5,620.8 605.5,622.5 606.5,624.2 607.5,625.5 608.5,626.5 609.5,626.1 610.5,624.7 611.5,622.8 612.5,620.7 613.5,616.3 614.5,610.7 615.5,604.9 616.5,598.9 617.5,592.5 618.5,586.7 619.5,582.8 620.5,579.6 621.5,576.6 622.5,574.0 623.5,572.2 624.5,570.9 625.5,569.8 626.5,568.7 627.5,567.6 628.5,566.5 629.5,565.5 630.5,564.5 631.5,563.5 632.5,562.5 633.5,561.5 634.5,560.5 635.5,559.2 636.5,557.8 637.5,556.4 638.5,555.2 639.5,554.2 640.5,553.9 641.5,556.3 642.5,559.7 643.5,563.1 644.5,566.5 645.5,569.9 646.5,573.1 647.5,575.8 648.5,578.3 649.5,581.1 650.5,585.8 651.5,591.4 652.5,596.9 653.5,601.4 654.5,605.6 655.5,609.6 656.5,613.3 657.5,616.1 658.5,618.6 659.5,620.8 660.5,623.0 661.5,624.9 662.5,626.3 663.5,627.6 664.5,628.7 665.5,629.7 666.5,630.5 667.5,629.8 668.5,625.6 669.5,620.1 670.5,614.4 671.5,607.7 672.5,600.7 673.5,594.6 674.5,589.8 675.5,585.2 676.5,580.9 677.5,576.9 678.5,573.8 679.5,570.9 680.5,568.2 681.5,565.5 682.5,563.0 683.5,560.8 684.5,558.7 685.5,556.7 686.5,554.7 687.5,552.8 688.5,550.9 689.5,549.2 690.5,547.4 691.5,545.6 692.5,544.0 693.5,542.6 694.5,541.6 695.5,542.5 696.5,545.6 697.5,549.1 698.5,553.2 699.5,557.2 700.5,559.4 701.5,560.3 702.5,561.1 703.5,563.6 704.5,569.5 705.5,576.7 706.5,583.5 707.5,590.5 708.5,597.3 709.5,602.9 710.5,607.0 711.5,610.8 712.5,614.0 713.5,616.5 714.5,617.8 715.5,619.0 716.5,619.9 717.5,620.5 718.5,617.6 719.5,612.8 720.5,604.7 721.5,591.8 722.5,581.6 723.5,573.9 724.5,566.9 725.5,560.9 726.5,556.0 727.5,551.5 728.5,547.3 729.5,543.6 730.5,540.6 731.5,537.9 732.5,535.3 733.5,532.9 734.5,530.8 735.5,529.3 736.5,527.8 737.5,526.3 738.5,525.1 739.5,524.2 740.5,524.0 741.5,524.7 742.5,525.6 743.5,526.7 744.5,527.8 745.5,528.8 746.5,529.9 747.5,531.2 748.5,532.6 749.5,535.7 750.5,540.1 751.5,542.5 752.5,544.1 753.5,545.3 754.5,546.7 755.5,548.5 756.5,552.6 757.5,560.7 758.5,568.2 759.5,575.1 760.5,581.7 761.5,587.5 762.5,592.6 763.5,597.2 764.5,600.6 765.5,602.8 766.5,604.8 767.5,606.5 768.5,607.8 769.5,607.5 770.5,605.5 771.5,602.8 772.5,599.6 773.5,593.2 774.5,585.3 775.5,577.5 776.5,570.5 777.5,563.5 778.5,557.4 779.5,553.3 780.5,549.8 781.5,546.7 782.5,543.9 783.5,542.1 784.5,540.5 785.5,539.0 786.5,537.7 787.5,536.5 788.5,535.5 789.5,534.9 790.5,534.4 791.5,534.0 792.5,533.7 793.5,533.4 794.5,533.2 795.5,533.2 796.5,533.6 797.5,534.0 798.5,533.5 799.5,532.0 800.5,530.6 801.5,530.3 802.5,532.3 803.5,535.1 804.5,537.5 805.5,539.1 806.5,540.6 807.5,542.3 808.5,544.6 809.5,551.1 810.5,558.7 811.5,566.2 812.5,573.7 813.5,580.8 814.5,586.7 815.5,592.3 816.5,597.1 817.5,600.0 818.5,602.5 819.5,604.7 820.5,606.6 821.5,607.9 822.5,607.6 823.5,606.4 824.5,604.8 825.5,602.9 826.5,599.2 827.5,592.6 828.5,585.2 829.5,578.0 830.5,570.3 831.5,562.9 832.5,556.8 833.5,551.9 834.5,547.3 835.5,543.1 836.5,539.5 837.5,536.8 838.5,534.4 839.5,532.1 840.5,529.8 841.5,527.7 842.5,525.7 843.5,523.7 844.5,521.7 845.5,519.8 846.5,518.2 847.5,516.7 848.5,515.7 849.5,514.8 850.5,514.1 851.5,513.6 852.5,513.9 853.5,514.5 854.5,515.4 855.5,517.3 856.5,520.2 857.5,523.6 858.5,526.9 859.5,529.5 860.5,531.9 861.5,534.2 862.5,536.8 863.5,540.6 864.5,545.7 865.5,551.4 866.5,557.7 867.5,565.1 868.5,572.6 869.5,579.5 870.5,585.9 871.5,591.9 872.5,596.8 873.5,600.8 874.5,604.6 875.5,608.0 876.5,610.7 877.5,612.1 878.5,609.0 879.5,604.4 880.5,597.4 881.5,586.7 882.5,578.0 883.5,571.0 884.5,564.6 885.5,558.9 886.5,554.0 887.5,549.4 888.5,545.2 889.5,541.6 890.5,538.9 891.5,536.4 892.5,534.0 893.5,531.8 894.5,529.8 895.5,528.0 896.5,526.4 897.5,524.7 898.5,523.2 899.5,521.9 900.5,520.8 901.5,520.2 902.5,519.6 903.5,519.1 904.5,518.7 905.5,518.3 906.5,518.1 907.5,518.4 908.5,519.1 909.5,520.6 910.5,524.8 911.5,529.5 912.5,532.9 913.5,535.5 914.5,538.1 915.5,540.5 916.5,542.6 917.5,544.9 918.5,549.4 919.5,557.9 920.5,566.0 921.5,573.5 922.5,580.8 923.5,587.4 924.5,593.1 925.5,598.4 926.5,602.8 927.5,606.1 928.5,609.3 929.5,611.9 930.5,613.2 931.5,611.4 932.5,608.7 933.5,605.4 934.5,600.1 935.5,592.1 936.5,583.9 937.5,576.4 938.5,569.0 939.5,561.8 940.5,555.4 941.5,549.1 942.5,543.5 943.5,539.4 944.5,535.8 945.5,532.6 946.5,529.8 947.5,528.0 948.5,526.5 949.5,525.3 950.5,524.1 951.5,523.2 952.5,522.6 953.5,522.2 954.5,521.9 955.5,522.1 956.5,523.3 957.5,524.9 958.5,526.7 959.5,528.5 960.5,530.4 961.5,532.4 962.5,534.7 963.5,538.1 964.5,541.6 965.5,544.7 966.5,546.7 967.5,548.5 968.5,550.3 969.5,552.7 970.5,558.0 971.5,564.4 972.5,570.7 973.5,576.3 974.5,581.7 975.5,586.8 976.5,591.3 977.5,595.6 978.5,599.6 979.5,603.2 980.5,605.8 981.5,608.1 982.5,610.1 983.5,611.8 984.5,612.7 985.5,613.3 986.5,613.8 987.5,614.2 988.5,613.6 989.5,611.3 990.5,608.1 991.5,603.6 992.5,596.0 993.5,590.3 994.5,586.7 995.5,583.5 996.5,580.8 997.5,578.6 998.5,576.7 999.5,575.0 1000.5,573.8 1001.5,572.6 1002.5,571.7 1003.5,571.1 1004.5,571.4 1005.5,571.9 1006.5,572.4 1007.5,572.9 1008.5,573.2 1009.5,572.3 1010.5,570.8 1011.5,569.0 1012.5,567.3 1013.5,565.9 1014.5,564.4 1015.5,563.0 1016.5,562.1 1017.5,562.9 1018.5,565.2 1019.5,568.0 1020.5,571.3 1021.5,575.4" fill="none" stroke="#FF0000" stroke-width="4.2" stroke-linejoin="round"/>
<rect x="705.5" y="424.5" width="313" height="78" fill="#fff" stroke="#4a4a4a" stroke-width="1" shape-rendering="crispEdges"/>
<path d="M713.4 446.3H765" stroke="#000" stroke-width="5.2" stroke-dasharray="17.4 17" fill="none"/>
<circle cx="747.2" cy="446.3" r="6.4" fill="none" stroke="#000" stroke-width="5"/>
<path d="M713.4 481.9H780" stroke="#FF0000" stroke-width="4.5" fill="none"/>
<g font-size="27.95" fill="#000"><text x="785.5" y="456.5">the original data</text><text x="785.5" y="491.5">the predicted data</text></g>
</svg>
</body></html>
